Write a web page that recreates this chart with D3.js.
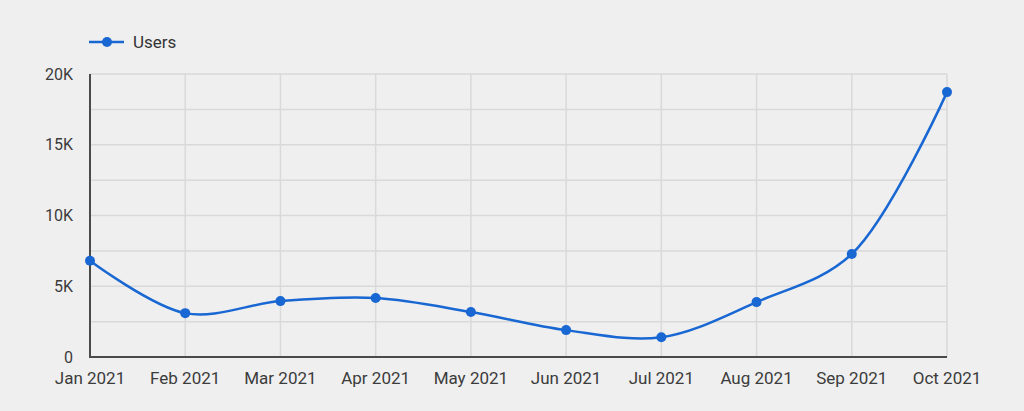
<!DOCTYPE html>
<html><head><meta charset="utf-8">
<script src="https://cdn.jsdelivr.net/npm/d3@7"></script>
<style>
html,body{margin:0;padding:0;background:#efefef;}
svg{display:block;font-family:Roboto,"Noto Sans",sans-serif;}
</style></head>
<body>
<svg id="chart" width="1024" height="411"></svg>
<script>
const months = ["Jan 2021","Feb 2021","Mar 2021","Apr 2021","May 2021","Jun 2021","Jul 2021","Aug 2021","Sep 2021","Oct 2021"];
const users = [6800, 3100, 3950, 4170, 3180, 1900, 1400, 3880, 7280, 18720];
const yTicks = [0, 5000, 10000, 15000, 20000];
const yTickLabels = ["0", "5K", "10K", "15K", "20K"];
const seriesName = "Users";

const svg = d3.select("#chart");
const m = {left: 90, right: 77, top: 74, bottom: 54};
const W = 1024, H = 411;
const x = d3.scalePoint().domain(months).range([m.left, W - m.right]);
const y = d3.scaleLinear().domain([0, 20000]).range([H - m.bottom, m.top]);
const color = "#1967d2";

// horizontal grid (every 2500)
const gridVals = d3.range(2500, 20001, 2500);
svg.append("g").selectAll("line").data(gridVals).join("line")
  .attr("x1", m.left).attr("x2", W - m.right)
  .attr("y1", d => y(d)).attr("y2", d => y(d))
  .attr("stroke", "#d9d9d9").attr("stroke-width", 1.5);
// vertical grid
svg.append("g").selectAll("line").data(months.slice(1)).join("line")
  .attr("x1", d => x(d)).attr("x2", d => x(d))
  .attr("y1", m.top).attr("y2", H - m.bottom)
  .attr("stroke", "#d9d9d9").attr("stroke-width", 1.5);

// axes lines
svg.append("line").attr("x1", m.left).attr("x2", m.left).attr("y1", m.top).attr("y2", H - m.bottom)
  .attr("stroke", "#4a4a4a").attr("stroke-width", 2);
svg.append("line").attr("x1", m.left - 1).attr("x2", W - m.right).attr("y1", H - m.bottom).attr("y2", H - m.bottom)
  .attr("stroke", "#4a4a4a").attr("stroke-width", 2);

// y labels
svg.append("g").selectAll("text").data(yTicks).join("text")
  .attr("x", 73).attr("y", d => y(d)).attr("dy", "0.35em")
  .attr("text-anchor", "end").attr("font-size", 16).attr("fill", "#3c3c3c")
  .text((d, i) => yTickLabels[i]);

// x labels
svg.append("g").selectAll("text").data(months).join("text")
  .attr("x", d => x(d)).attr("y", 384)
  .attr("text-anchor", "middle").attr("font-size", 17).attr("fill", "#3c3c3c")
  .text(d => d);

// line
const line = d3.line().x((d, i) => x(months[i])).y(d => y(d)).curve(d3.curveCatmullRom.alpha(0.5));
svg.append("path").datum(users).attr("d", line)
  .attr("fill", "none").attr("stroke", color).attr("stroke-width", 2.5);
svg.append("g").selectAll("circle").data(users).join("circle")
  .attr("cx", (d, i) => x(months[i])).attr("cy", d => y(d)).attr("r", 5).attr("fill", color);

// legend
const lg = svg.append("g");
lg.append("line").attr("x1", 89).attr("x2", 124).attr("y1", 42).attr("y2", 42).attr("stroke", color).attr("stroke-width", 2.5);
lg.append("circle").attr("cx", 107).attr("cy", 42).attr("r", 5).attr("fill", color);
lg.append("text").attr("x", 133).attr("y", 42).attr("dy", "0.35em").attr("font-size", 17).attr("fill", "#333").text(seriesName);
</script>
</body></html>
